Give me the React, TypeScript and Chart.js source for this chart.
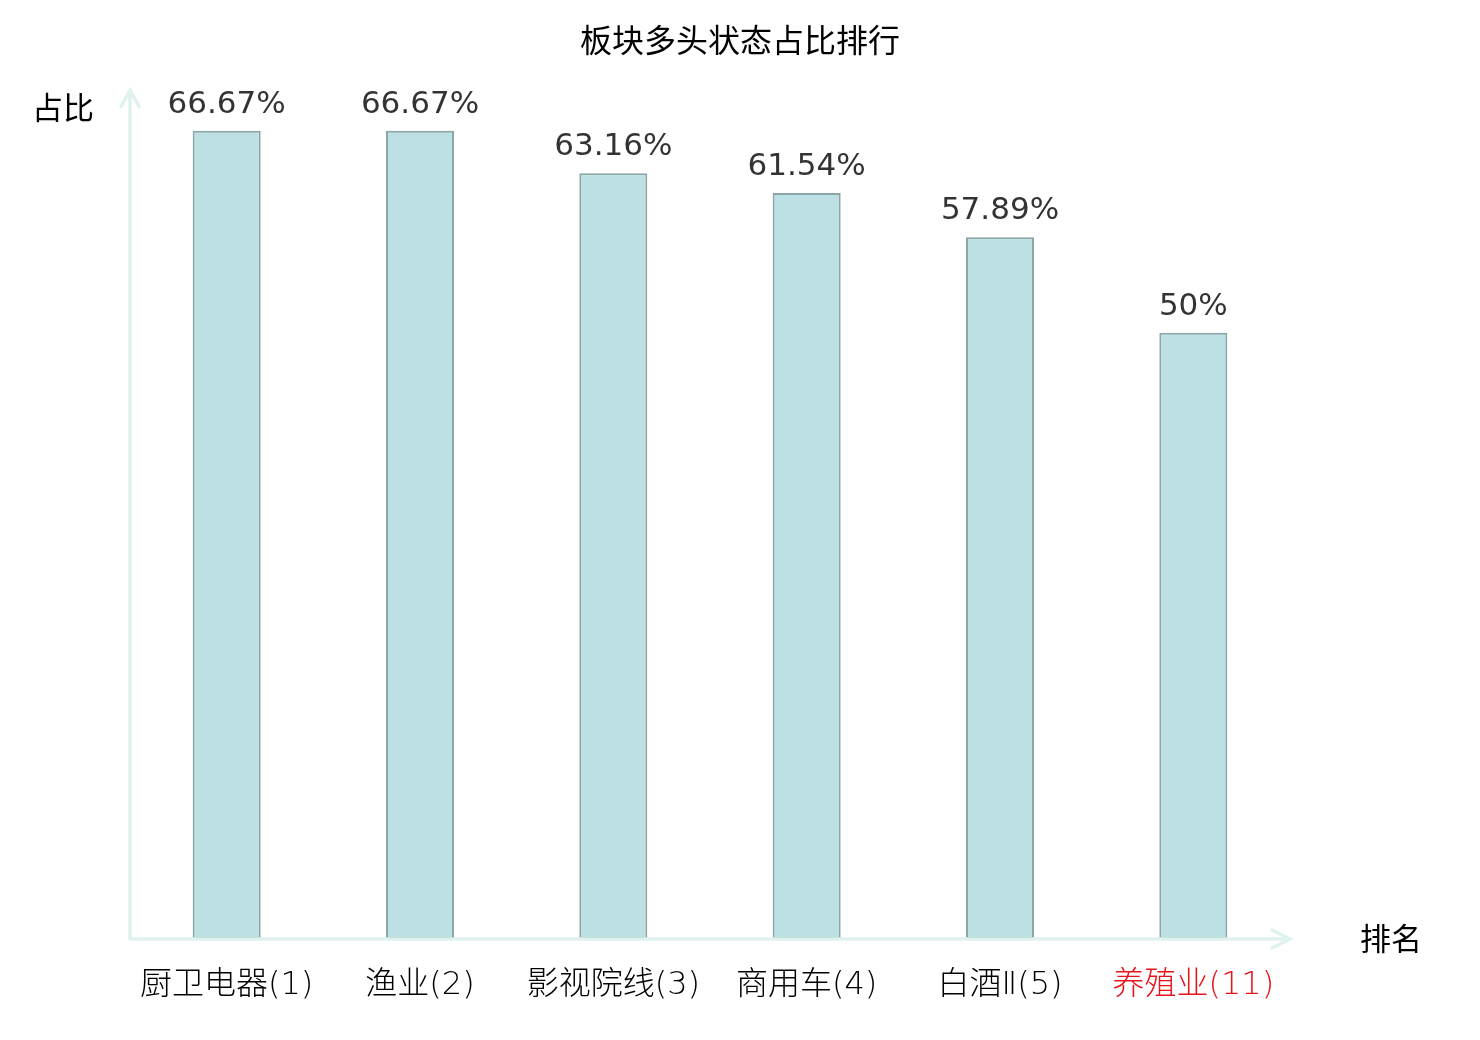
import { useEffect, useRef } from 'react'
import { Chart, registerables, Plugin } from 'chart.js'

Chart.register(...registerables)

const categories = ['厨卫电器(1)', '渔业(2)', '影视院线(3)', '商用车(4)', '白酒Ⅱ(5)', '养殖业(11)']
const ratios = [66.67, 66.67, 63.16, 61.54, 57.89, 50]
const labelColors = ['#000000', '#000000', '#000000', '#000000', '#000000', '#e8141b']

const FONT = '"DejaVu Sans", "Noto Sans CJK SC", sans-serif'
const AXIS_COLOR = '#dff2ef'

// value labels above each bar
const valueLabels: Plugin<'bar'> = {
  id: 'valueLabels',
  afterDatasetsDraw(chart) {
    const { ctx } = chart
    const meta = chart.getDatasetMeta(0)
    ctx.save()
    ctx.font = `31px ${FONT}`
    ctx.fillStyle = '#333333'
    ctx.textAlign = 'center'
    ctx.textBaseline = 'alphabetic'
    meta.data.forEach((bar, i) => {
      ctx.fillText(`${ratios[i]}%`, bar.x, bar.y - 18)
    })
    ctx.restore()
  },
}

// arrow axes + axis names
const arrowAxes: Plugin<'bar'> = {
  id: 'arrowAxes',
  afterDraw(chart) {
    const { ctx, chartArea } = chart
    const { left, right, top, bottom } = chartArea
    ctx.save()
    ctx.strokeStyle = AXIS_COLOR
    ctx.lineWidth = 3.5
    ctx.lineCap = 'round'
    ctx.beginPath()
    ctx.moveTo(left, bottom)
    ctx.lineTo(left, top)
    ctx.moveTo(left - 9, top + 16)
    ctx.lineTo(left, top)
    ctx.lineTo(left + 9, top + 16)
    ctx.moveTo(left, bottom)
    ctx.lineTo(right, bottom)
    ctx.moveTo(right - 18, bottom - 9)
    ctx.lineTo(right, bottom)
    ctx.lineTo(right - 18, bottom + 9)
    ctx.stroke()

    ctx.font = `31px ${FONT}`
    ctx.fillStyle = '#000000'
    ctx.textAlign = 'center'
    ctx.textBaseline = 'middle'
    ctx.fillText('占比', left - 67, top + 21)
    ctx.fillText('排名', right + 101, bottom + 3)
    ctx.restore()
  },
}

export default function App() {
  const canvasRef = useRef<HTMLCanvasElement | null>(null)
  const chartRef = useRef<Chart | null>(null)

  useEffect(() => {
    const ctx = canvasRef.current?.getContext('2d')
    if (!ctx) return

    chartRef.current?.destroy()
    chartRef.current = new Chart(ctx, {
      type: 'bar',
      data: {
        labels: categories,
        datasets: [
          {
            label: '占比',
            data: ratios,
            backgroundColor: '#bce0e3',
            borderColor: '#8aa6a7',
            borderWidth: 2,
            borderSkipped: false,
            categoryPercentage: 1,
            barPercentage: 0.352,
          },
        ],
      },
      options: {
        responsive: false,
        animation: false,
        layout: { padding: 0 },
        scales: {
          x: {
            grid: { display: false, drawTicks: false },
            border: { display: false },
            ticks: {
              padding: 27,
              font: { size: 32, family: FONT, weight: 200 },
              color: (c) => labelColors[c.index] ?? '#000000',
            },
            afterFit: (s) => {
              s.height = 101
            },
          },
          y: {
            min: 0,
            max: 70,
            grid: { display: false, drawTicks: false },
            border: { display: false },
            ticks: { display: false },
            afterFit: (s) => {
              s.width = 130
            },
          },
          y2: {
            position: 'right',
            display: true,
            grid: { display: false, drawTicks: false },
            border: { display: false },
            ticks: { display: false },
            afterFit: (s) => {
              s.width = 190
            },
          },
        },
        plugins: {
          legend: { display: false },
          tooltip: { enabled: false },
          title: {
            display: true,
            text: '板块多头状态占比排行',
            color: '#000000',
            font: { size: 32, family: FONT, weight: 'normal' },
            padding: { top: 24, bottom: 28 },
          },
        },
      },
      plugins: [valueLabels, arrowAxes],
    })

    return () => chartRef.current?.destroy()
  }, [])

  return (
    <div style={{ position: 'fixed', left: 0, top: 0, width: 1480, height: 1040, background: '#ffffff' }}>
      <canvas ref={canvasRef} width={1480} height={1040} style={{ width: 1480, height: 1040 }} />
    </div>
  )
}
